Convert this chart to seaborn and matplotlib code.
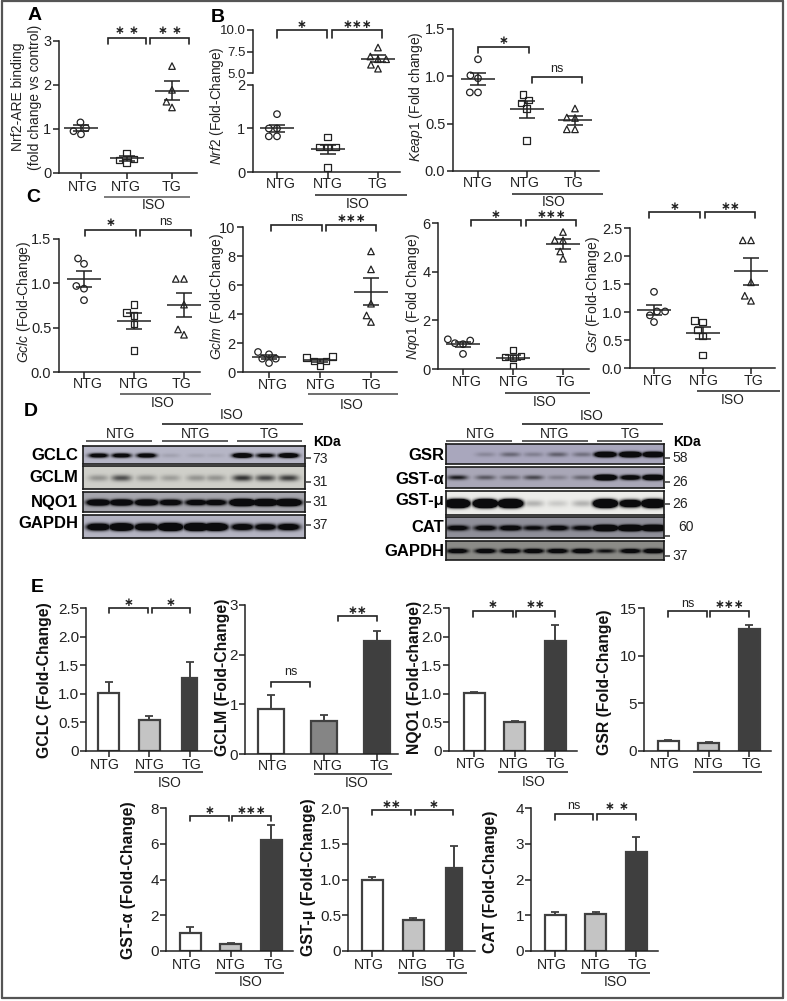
#!/usr/bin/env python3
# plot.py - multi panel figure: scatter panels, blots and bar panels
import numpy as np
import pandas as pd
import matplotlib
matplotlib.use("Agg")
import matplotlib.pyplot as plt
from matplotlib.colors import LinearSegmentedColormap
import seaborn as sns

W, H = 787, 1001
CATS = ["NTG", "ISO NTG", "ISO TG"]
GROUP_LABELS = ["NTG", "NTG", "TG"]

# Panel A / B / C values: points per group, mean, sem
a_pts = [[1.15, 1.02, 0.95, 0.88], [0.45, 0.32, 0.30, 0.24], [2.43, 1.89, 1.62, 1.49]]
a_mean = [1.02, 0.33, 1.87]
a_sem = [0.07, 0.05, 0.21]

nrf2_pts = [[1.33, 1.0, 1.0, 0.82, 0.82], [0.8, 0.58, 0.58, 0.58, 0.1], [7.96, 6.92, 6.6, 6.6, 5.96, 5.5]]
nrf2_mean = [1.0, 0.52, 6.65]
nrf2_sem = [0.09, 0.11, 0.42]

keap1_pts = [[1.18, 1.01, 0.98, 0.83, 0.83], [0.81, 0.75, 0.72, 0.66, 0.32], [0.66, 0.565, 0.56, 0.44, 0.44]]
keap1_mean = [0.97, 0.65, 0.535]
keap1_sem = [0.065, 0.09, 0.05]

gclc_pts = [[1.28, 1.22, 0.97, 0.94, 0.81], [0.76, 0.67, 0.64, 0.54, 0.24], [1.05, 1.05, 0.76, 0.48, 0.42]]
gclc_mean = [1.05, 0.57, 0.76]
gclc_sem = [0.09, 0.09, 0.135]

gclm_pts = [[1.38, 1.22, 0.92, 0.92, 0.62], [1.08, 1.0, 0.76, 0.76, 0.41], [8.32, 7.08, 4.71, 3.9, 3.45]]
gclm_mean = [1.05, 0.8, 5.53]
gclm_sem = [0.15, 0.1, 0.93]

nqo1_pts = [[1.22, 1.17, 1.06, 1.02, 0.62], [0.78, 0.53, 0.5, 0.45, 0.1], [5.63, 5.3, 5.29, 4.83, 4.53]]
nqo1_mean = [1.02, 0.47, 5.13]
nqo1_sem = [0.1, 0.1, 0.2]

gsr_pts = [[1.36, 1.01, 1.01, 0.94, 0.82], [0.85, 0.82, 0.68, 0.57, 0.23], [2.28, 2.28, 1.53, 1.29, 1.2]]
gsr_mean = [1.03, 0.63, 1.73]
gsr_sem = [0.09, 0.11, 0.24]

# Panel E bars
e_gclc = [1.01, 0.55, 1.27]
e_gclc_err = [0.2, 0.07, 0.29]
e_gclm = [0.9, 0.67, 2.28]
e_gclm_err = [0.29, 0.11, 0.19]
e_nqo1 = [1.01, 0.51, 1.93]
e_nqo1_err = [0.03, 0.02, 0.27]
e_gsr = [1.08, 0.85, 12.8]
e_gsr_err = [0.1, 0.13, 0.4]
e_gsta = [1.0, 0.4, 6.2]
e_gsta_err = [0.32, 0.07, 0.85]
e_gstm = [1.0, 0.44, 1.16]
e_gstm_err = [0.04, 0.02, 0.31]
e_cat = [1.01, 1.03, 2.77]
e_cat_err = [0.07, 0.07, 0.42]

# Panel D band strengths, lane by lane
d_gclc = [1.6, 1.6, 1.7, 0.12, 0.1, 0.08, 2.2, 1.3, 2.2]
d_gclm = [0.3, 0.65, 0.3, 0.25, 0.3, 0.3, 0.8, 0.7, 0.75]
d_nqo1 = [2.6, 2.6, 2.6, 2.0, 1.8, 1.8, 4.5, 4.0, 4.5]
d_gapdh_l = [2.4, 3.2, 2.6, 3.8, 3.8, 3.4, 1.8, 1.7, 1.9]
d_gsr = [0.0, 0.2, 0.4, 0.25, 0.45, 0.35, 3.0, 3.4, 3.0]
d_gsta = [0.9, 0.5, 0.4, 0.6, 0.25, 0.4, 3.5, 1.8, 3.0]
d_gstm = [5.0, 5.0, 5.0, 0.25, 0.15, 0.25, 4.5, 2.5, 4.5]
d_cat = [1.6, 1.6, 1.8, 1.2, 1.6, 1.3, 4.0, 4.0, 4.0]
d_gapdh_r = [1.8, 1.8, 1.8, 1.8, 1.8, 2.0, 1.0, 1.7, 2.0]

sns.set_theme(style="ticks")
plt.rcParams["font.family"] = ["Liberation Sans", "DejaVu Sans"]
plt.rcParams["mathtext.fontset"] = "custom"
plt.rcParams["mathtext.it"] = "Liberation Sans:italic"
plt.rcParams["mathtext.rm"] = "Liberation Sans"
plt.rcParams["axes.edgecolor"] = "#222222"
plt.rcParams["xtick.color"] = "#222222"
plt.rcParams["ytick.color"] = "#222222"

fig = plt.figure(figsize=(W / 100, H / 100), dpi=100, facecolor="white")

# overlay in pixel coordinates for labels and brackets
over = fig.add_axes([0, 0, 1, 1], zorder=10)
over.set_xlim(0, W)
over.set_ylim(H, 0)
over.axis("off")
over.patch.set_alpha(0)


def T(x, y, s, size=10, **kw):
    kw.setdefault("ha", "center")
    kw.setdefault("va", "center")
    kw.setdefault("color", "#222222")
    over.text(x, y, s, fontsize=size, **kw)


def L(x0, x1, y0, y1=None, lw=1.1, color="#333333"):
    over.plot([x0, x1], [y0, y0 if y1 is None else y1], color=color, lw=lw, solid_capstyle="butt")


def bracket(x0, x1, y, label, drop=6, ly=None):
    over.plot([x0, x0, x1, x1], [y + drop, y, y, y + drop], color="#222222", lw=1.2, solid_joinstyle="miter")
    xm = (x0 + x1) / 2
    if label == "ns":
        T(xm, y - 8 if ly is None else ly, "ns", size=9)
    else:
        T(xm, y - 7 if ly is None else ly, label, size=8.5, family=["DejaVu Sans"], color="#222222",
          fontweight="bold")


def new_axes(x0, x1, yb, yt, p0, p2):
    ax = fig.add_axes([x0 / W, 1 - yb / H, (x1 - x0) / W, (yb - yt) / H])
    ax.patch.set_alpha(0)
    return ax, ((x0 - p0) / ((p2 - p0) / 2), (x1 - p0) / ((p2 - p0) / 2))


def finish(ax, xl, ylim, yticks, ylabels, fs=10.5):
    ax.set_xlim(*xl)
    ax.set_ylim(*ylim)
    ax.set_yticks(yticks)
    ax.set_yticklabels(ylabels, fontsize=fs)
    ax.set_xticks([0, 1, 2])
    ax.set_xticklabels([])
    ax.set_xlabel("")
    ax.set_ylabel("")
    ax.tick_params(length=4, width=1.1, pad=1.5)
    sns.despine(ax=ax)
    for s in ["left", "bottom"]:
        ax.spines[s].set_linewidth(1.1)


MARKS = ["o", "s", "^"]


def strip(ax, pts, means, sems, groups=(0, 1, 2)):
    for g in groups:
        df = pd.DataFrame({"group": CATS[g], "value": pts[g]})
        n0 = len(ax.collections)
        sns.swarmplot(data=df, x="group", y="value", order=CATS, marker=MARKS[g], size=4.7,
                      color="white", edgecolor="#222222", linewidth=0.9, ax=ax, zorder=3)
        for c in ax.collections[n0:]:
            c.set_facecolor("none")
            c.set_edgecolor("#222222")
        ax.errorbar([g], [means[g]], yerr=[sems[g]], fmt="_", color="#222222", markersize=24,
                    markeredgewidth=1.1, elinewidth=1.1, capsize=6, capthick=1.1, zorder=4)


def scatter_panel(box, p0, p2, pts, means, sems, ylim, yticks, ylabels):
    ax, xl = new_axes(*box, p0, p2)
    strip(ax, pts, means, sems)
    finish(ax, xl, ylim, yticks, ylabels)
    return ax


def bar_panel(box, p0, p2, vals, errs, colors, widths_px, ylim, yticks, ylabels):
    ax, xl = new_axes(*box, p0, p2)
    df = pd.DataFrame({"group": CATS, "value": vals})
    sns.barplot(data=df, x="group", y="value", order=CATS, hue="group", hue_order=CATS,
                palette=dict(zip(CATS, colors)), legend=False, errorbar=None, width=0.5,
                edgecolor="#404040", linewidth=1.6, ax=ax)
    scale = (p2 - p0) / 2
    for patch, wpx in zip(ax.patches, widths_px):
        c = patch.get_x() + patch.get_width() / 2
        patch.set_width(wpx / scale)
        patch.set_x(c - wpx / scale / 2)
    ax.errorbar([0, 1, 2], vals, yerr=[[0, 0, 0], errs], fmt="none", ecolor="#404040",
                elinewidth=1.4, capsize=3.2, capthick=1.3, zorder=1)
    finish(ax, xl, ylim, yticks, ylabels, fs=11)
    ax.tick_params(axis="y", pad=1)
    return ax


def xlabels(xs, y, size=10.2):
    for x, s in zip(xs, GROUP_LABELS):
        T(x, y, s, size=size)


def iso(x0, x1, y_line, x_txt, y_txt, color="#333333"):
    L(x0, x1, y_line, lw=1.2, color=color)
    if x_txt is not None:
        T(x_txt, y_txt, "ISO", size=10)


# ---- Panel A
scatter_panel((59, 197, 173, 41), 81, 172, a_pts, a_mean, a_sem, (0, 3), [0, 1, 2, 3], ["0", "1", "2", "3"])
T(35, 15, "A", size=14, fontweight="bold", color="black")
xlabels([83, 126, 172], 187)
iso(104, 190, 197, 154, 205, color="#666666")
bracket(108, 146, 38, "∗ ∗", ly=30)
bracket(150, 189, 38, "∗ ∗", ly=30)
T(18, 97, "Nrf2-ARE binding", size=10, rotation=90)
T(35, 97, "(fold change vs control)", size=10, rotation=90)

# ---- Panel B, broken axis
low, xl = new_axes(253, 400, 172, 85, 277, 378)
strip(low, nrf2_pts, nrf2_mean, nrf2_sem, groups=(0, 1))
finish(low, xl, (0, 2), [0, 1, 2], ["0", "1", "2"])
up, xl = new_axes(253, 400, 73, 30, 277, 378)
strip(up, nrf2_pts, nrf2_mean, nrf2_sem, groups=(2,))
finish(up, xl, (5, 10), [5, 7.5, 10], ["5.0", "7.5", "10.0"], fs=9.5)
up.spines["bottom"].set_visible(False)
up.set_xticks([])
T(218, 18, "B", size=14, fontweight="bold", color="black")
xlabels([281, 328, 378], 184)
iso(315, 407, 195, 358, 204)
bracket(277, 327, 30, "∗", drop=8, ly=24)
bracket(332, 382, 30, "∗∗∗", drop=8, ly=24)
T(217, 106, r"$\mathit{Nrf2}$ (Fold-Change)", size=9.8, rotation=90)

# ---- Keap1
scatter_panel((453, 599, 171, 29), 478, 575, keap1_pts, keap1_mean, keap1_sem, (0, 1.5),
              [0, 0.5, 1, 1.5], ["0.0", "0.5", "1.0", "1.5"])
xlabels([478, 525, 574], 183)
iso(512, 603, 194, 554, 202)
bracket(478, 529, 46.5, "∗", ly=40)
bracket(532, 582, 77, "ns", ly=69)
T(416, 97, r"$\mathit{Keap1}$ (Fold change)", size=10, rotation=90)

# ---- Panel C
T(33, 197, "C", size=14, fontweight="bold", color="black")
scatter_panel((59, 200, 372, 239), 84, 184, gclc_pts, gclc_mean, gclc_sem, (0, 1.5),
              [0, 0.5, 1, 1.5], ["0.0", "0.5", "1.0", "1.5"])
xlabels([88, 134, 182], 384)
iso(120, 211, 394, 163, 403, color="#555555")
bracket(85, 136, 230, "∗", ly=223)
bracket(140, 191, 230, "ns", ly=222)
T(24, 302, r"$\mathit{Gclc}$ (Fold-Change)", size=10, rotation=90)

scatter_panel((243, 397, 372, 227), 269, 371, gclm_pts, gclm_mean, gclm_sem, (0, 10),
              [0, 2, 4, 6, 8, 10], ["0", "2", "4", "6", "8", "10"])
xlabels([273, 321, 371], 385)
iso(308, 398, 394, 352, 405, color="#555555")
bracket(271, 322, 225, "ns", ly=218)
bracket(326, 376, 225, "∗∗∗", ly=218)
T(217, 297, r"$\mathit{Gclm}$ (Fold-Change)", size=10, rotation=90)

scatter_panel((438, 589, 369, 223), 463, 563, nqo1_pts, nqo1_mean, nqo1_sem, (0, 6),
              [0, 2, 4, 6], ["0", "2", "4", "6"])
xlabels([467, 514, 565], 382)
iso(505, 590, 393, 545, 402)
bracket(471, 521, 220, "∗", ly=215)
bracket(526, 576, 220, "∗∗∗", ly=215)
T(413, 297, r"$\mathit{Nqo1}$ (Fold Change)", size=10, rotation=90)

scatter_panel((630, 775, 368, 228), 654, 751, gsr_pts, gsr_mean, gsr_sem, (0, 2.5),
              [0, 0.5, 1, 1.5, 2, 2.5], ["0.0", "0.5", "1.0", "1.5", "2.0", "2.5"])
xlabels([658, 704, 753], 381)
iso(697, 780, 391, 733, 400)
bracket(649, 700, 212, "∗", ly=206)
bracket(705, 755, 212, "∗∗", ly=206)
T(593, 295, r"$\mathit{Gsr}$ (Fold-Change)", size=10, rotation=90)


# ---- Panel D blots
def blot(x0, x1, y0, y1, lanes_px, strengths, bg, thick, band_w):
    w, h = int(x1 - x0) * 2, int(y1 - y0) * 2
    yy, xx = np.mgrid[0:h, 0:w]
    xx = x0 + xx / 2
    yy = y0 + yy / 2
    yc = (y0 + y1) / 2
    img = np.zeros((h, w))
    for lx, s in zip(lanes_px, strengths):
        taper = np.exp(-np.abs((xx - lx) / band_w) ** 3)
        img = np.maximum(img, s * taper * np.exp(-((yy - yc) / thick) ** 2))
    img = np.clip(img, 0, 1)
    cmap = LinearSegmentedColormap.from_list("b", [bg, "#0b0b0d"])
    ax = fig.add_axes([x0 / W, 1 - y1 / H, (x1 - x0) / W, (y1 - y0) / H])
    sns.heatmap(img, ax=ax, cmap=cmap, vmin=0, vmax=1, cbar=False, xticklabels=False, yticklabels=False)
    for s in ax.spines.values():
        s.set_visible(True)
        s.set_color("#1a1a1a")
        s.set_linewidth(1.2)


lanes_l = [98, 121, 146, 170, 196, 215, 242, 265, 288]
blot(83, 305, 446, 464, lanes_l, d_gclc, "#b6b6c6", 2.2, 9.5)
blot(83, 305, 466, 489, lanes_l, d_gclm, "#cfcfc9", 3.2, 10)
blot(83, 305, 492, 512, lanes_l, d_nqo1, "#a6a6ad", 2.8, 11)
blot(83, 305, 515, 538, lanes_l, d_gapdh_l, "#b4b4c2", 3.2, 11)

lanes_r = [457, 485, 510, 533, 557, 582, 605, 630, 653]
blot(446, 664, 444, 464, lanes_r, d_gsr, "#a9a7bd", 2.4, 10)
blot(446, 664, 467, 488, lanes_r, d_gsta, "#a9a7b7", 2.4, 10)
blot(446, 664, 491, 515, lanes_r, d_gstm, "#ecece9", 3.4, 10.5)
blot(446, 664, 517, 538, lanes_r, d_cat, "#8f8f99", 2.6, 11)
blot(446, 664, 541, 560, lanes_r, d_gapdh_r, "#8b8b87", 2.2, 10)

T(31, 412, "D", size=14, fontweight="bold", color="black")
for lbl, y in zip(["GCLC", "GCLM", "NQO1", "GAPDH"], [456, 478, 502, 523]):
    T(78, y, lbl, size=12, fontweight="bold", ha="right", color="black")
for lbl, y in zip(["GSR", "GST-α", "GST-μ", "CAT", "GAPDH"], [456, 479, 501, 528, 551]):
    T(444, y, lbl, size=12, fontweight="bold", ha="right", color="black")

for x, s, a, b in [(121, "NTG", 86, 152), (196, "NTG", 162, 228), (269, "TG", 237, 302),
                   (481, "NTG", 446, 512), (555, "NTG", 522, 588), (630, "TG", 597, 662)]:
    T(x, 434, s, size=10)
    L(a, b, 441)
T(232, 415, "ISO", size=10)
L(162, 303, 424, color="#111111")
T(592, 416, "ISO", size=10)
L(522, 663, 424, color="#111111")
T(327, 442, "KDa", size=10, fontweight="bold", color="black")
T(687, 442, "KDa", size=10, fontweight="bold", color="black")
for y, ty, s in [(458, 459, "73"), (482, 482, "31"), (502, 502, "31"), (525, 525, "37")]:
    L(306, 311, y)
    T(320, ty, s, size=10)
for y, s in [(458, "58"), (482, "26"), (504, "26"), (556, "37")]:
    L(665, 670, y)
    T(680, y, s, size=10)
L(664, 670, 536)
T(686, 527, "60", size=10)

# ---- Panel E bars
WHITE, LIGHT, MID, DARK = "#ffffff", "#c4c4c4", "#858585", "#3f3f3f"
T(37, 588, "E", size=14, fontweight="bold", color="black")
YL = dict(size=11.3, rotation=90, fontweight="bold", color="#111111")

bar_panel((86, 212, 751, 608), 109, 190, e_gclc, e_gclc_err, [WHITE, LIGHT, DARK], [21, 21, 15],
          (0, 2.5), [0, 0.5, 1, 1.5, 2, 2.5], ["0", "0.5", "1.0", "1.5", "2.0", "2.5"])
xlabels([105, 150, 191], 765)
iso(134, 203, 772, 170, 783)
bracket(109, 148, 608, "∗", drop=5, ly=602)
bracket(152, 190, 608, "∗", drop=5, ly=602)
T(45, 680, "GCLC (Fold-Change)", **YL)

bar_panel((245, 398, 754, 605), 271, 377, e_gclm, e_gclm_err, [WHITE, MID, DARK], [26, 26, 26],
          (0, 3), [0, 1, 2, 3], ["0", "1", "2", "3"])
xlabels([273, 328, 380], 766)
iso(314, 392, 774, 357, 783)
bracket(271, 310, 682, "ns", drop=5, ly=672)
bracket(338, 377, 616, "∗∗", drop=5, ly=610)
T(223, 677, "GCLM (Fold-Change)", **YL)

bar_panel((449, 577, 751, 608), 474, 555, e_nqo1, e_nqo1_err, [WHITE, LIGHT, DARK], [21, 21, 21],
          (0, 2.5), [0, 0.5, 1, 1.5, 2, 2.5], ["0", "0.5", "1.0", "1.5", "2.0", "2.5"])
xlabels([471, 514, 556], 764)
iso(498, 568, 772, 534, 782)
bracket(473, 513, 611, "∗", ly=605)
bracket(516, 555, 611, "∗∗", ly=605)
T(415, 677, "NQO1 (Fold-change)", **YL)

bar_panel((644, 771, 751, 608), 668, 749, e_gsr, e_gsr_err, [WHITE, LIGHT, DARK], [21, 21, 21],
          (0, 15), [0, 5, 10, 15], ["0", "5", "10", "15"])
xlabels([665, 709, 751], 764)
iso(693, 762, 772, None, None)
bracket(668, 707, 611, "ns", ly=604)
bracket(710, 749, 611, "∗∗∗", ly=604)
T(604, 682, "GSR (Fold-Change)", **YL)

bar_panel((166, 293, 951, 808), 190, 271, e_gsta, e_gsta_err, [WHITE, LIGHT, DARK], [21, 21, 21],
          (0, 8), [0, 2, 4, 6, 8], ["0", "2", "4", "6", "8"])
xlabels([187, 231, 273], 965)
iso(215, 284, 973, 251, 982)
bracket(190, 229, 816, "∗", drop=5, ly=810)
bracket(232, 271, 816, "∗∗∗", drop=5, ly=810)
T(128, 880, "GST-α (Fold-Change)", **YL)

bar_panel((348, 475, 951, 808), 372, 454, e_gstm, e_gstm_err, [WHITE, LIGHT, DARK], [21, 21, 16],
          (0, 2), [0, 0.5, 1, 1.5, 2], ["0", "0.5", "1.0", "1.5", "2.0"])
xlabels([369, 413, 455], 965)
iso(398, 467, 973, 433, 982)
bracket(372, 411, 810, "∗∗", drop=5, ly=804)
bracket(415, 453, 810, "∗", drop=5, ly=804)
T(309, 877, "GST-μ (Fold-Change)", **YL)

bar_panel((531, 658, 951, 808), 555, 636, e_cat, e_cat_err, [WHITE, LIGHT, DARK], [21, 21, 21],
          (0, 4), [0, 1, 2, 3, 4], ["0", "1", "2", "3", "4"])
xlabels([552, 596, 637], 965)
iso(581, 650, 973, 616, 982)
bracket(555, 593, 814, "ns", ly=806)
bracket(597, 636, 814, "∗ ∗", ly=807)
T(491, 882, "CAT (Fold-Change)", **YL)

# outer frame
for xs, ys in [([2, 783], [1, 1]), ([2, 783], [998, 998]), ([2, 2], [1, 998]), ([783, 783], [1, 998])]:
    over.plot(xs, ys, color="#555555", lw=1.6)

fig.savefig("out.png", dpi=100, facecolor="white")
